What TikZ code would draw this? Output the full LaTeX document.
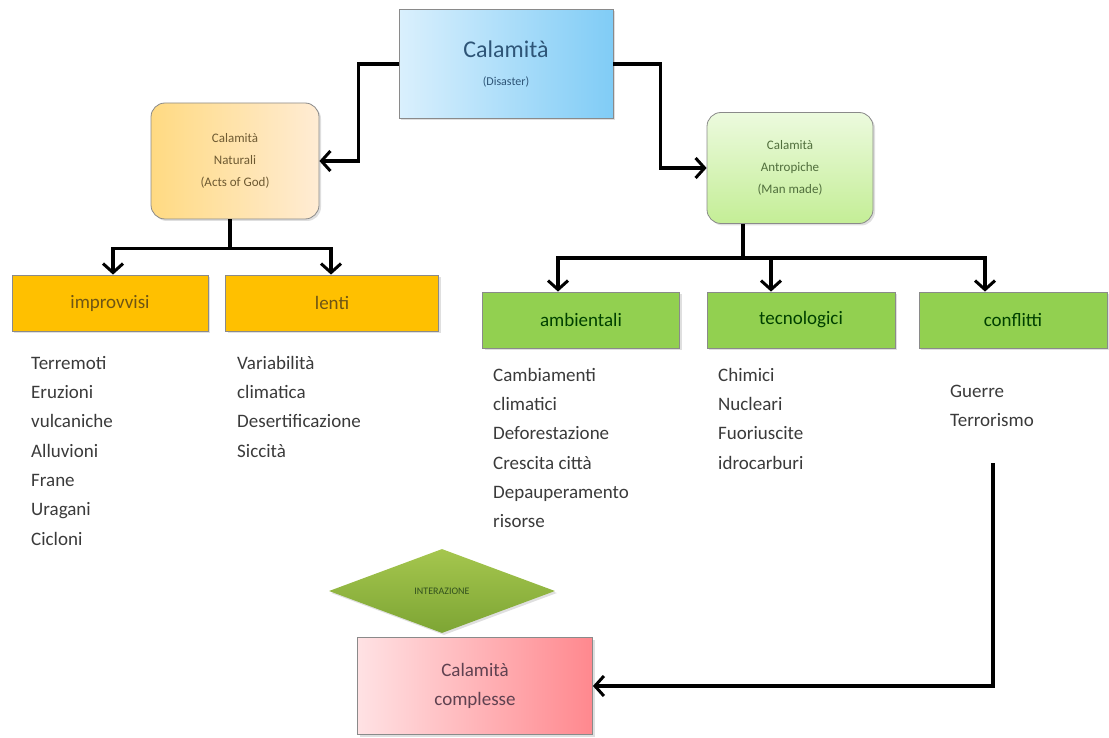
\documentclass[tikz,border=0pt]{standalone}
\usepackage{fontspec}
\setmainfont{Carlito}
\usetikzlibrary{arrows.meta,shapes.geometric,shadows}
\definecolor{boxedge}{HTML}{8A8A8A}
\definecolor{orangefill}{HTML}{FFC000}
\definecolor{greenfill}{HTML}{92D050}
\definecolor{listtext}{HTML}{3A3A3A}
\begin{document}
\begin{tikzpicture}[x=1pt,y=-1pt,
  softshadow/.style={drop shadow={opacity=0.25,shadow xshift=2pt,shadow yshift=-2pt}},
  topbox/.style={draw=boxedge,line width=0.8pt,inner sep=0pt,align=center,softshadow},
  catbox/.style={draw=boxedge,line width=0.8pt,inner sep=0pt,minimum height=56pt,softshadow,
    font=\fontsize{19}{22}\selectfont},
  orangebox/.style={catbox,fill=orangefill,text={rgb,255:red,110;green,85;blue,20}},
  greenbox/.style={catbox,fill=greenfill,text=green!25!black},
  listnode/.style={anchor=north west,inner sep=0pt,align=left,text=listtext,
    font=\fontsize{19}{29.3}\selectfont},
  link/.style={line width=3.5pt},
  conn/.style={line width=3.5pt,-{Straight Barb[length=9pt,width=20pt,line width=3pt]}}
]
\useasboundingbox (0,0) rectangle (1109,738);

% top level
\node[topbox,minimum width=214pt,minimum height=109pt,
  left color={rgb,255:red,218;green,240;blue,253},right color={rgb,255:red,128;green,204;blue,246},
  text={rgb,255:red,46;green,85;blue,119}] (cal) at (506,64)
  {\fontsize{24}{28}\selectfont Calamità\\[16pt]\fontsize{12}{14}\selectfont (Disaster)};

% second level
\node[topbox,rounded corners=14pt,minimum width=168pt,minimum height=116pt,
  left color={rgb,255:red,255;green,218;blue,130},right color={rgb,255:red,255;green,236;blue,212},
  text={rgb,255:red,110;green,90;blue,50},font=\fontsize{13}{22}\selectfont] (nat) at (235,161)
  {Calamità\\Naturali\\(Acts of God)};
\node[topbox,rounded corners=14pt,minimum width=166pt,minimum height=111pt,
  top color={rgb,255:red,236;green,250;blue,222},bottom color={rgb,255:red,196;green,238;blue,150},
  text={rgb,255:red,80;green,110;blue,60},font=\fontsize{13}{22}\selectfont] (ant) at (790,168)
  {Calamità\\Antropiche\\(Man made)};

% categories
\node[orangebox,minimum width=196pt] (imp) at (110,303) {improvvisi};
\node[orangebox,minimum width=213pt] (len) at (332,303) {lenti};
\node[greenbox,minimum width=197pt] (amb) at (581,320) {ambientali};
\node[greenbox,minimum width=188pt] (tec) at (801,320) {tecnologici};
\node[greenbox,minimum width=188pt] (con) at (1013,320) {conflitti};

% examples
\node[listnode] (limp) at (31,356) {Terremoti\\Eruzioni\\vulcaniche\\Alluvioni\\Frane\\Uragani\\Cicloni};
\node[listnode] (llen) at (237,356) {Variabilità\\climatica\\Desertificazione\\Siccità};
\node[listnode] (lamb) at (493,368) {Cambiamenti\\climatici\\Deforestazione\\Crescita città\\Depauperamento\\risorse};
\node[listnode] (ltec) at (718,368) {Chimici\\Nucleari\\Fuoriuscite\\idrocarburi};
\node[listnode] (lcon) at (950,385) {Guerre\\Terrorismo};

% interaction and result
\node[diamond,draw=none,inner sep=0pt,minimum width=226pt,minimum height=84pt,softshadow,
  top color={rgb,255:red,165;green,198;blue,78},bottom color={rgb,255:red,125;green,165;blue,52},
  text={rgb,255:red,50;green,80;blue,30},font=\fontsize{10}{12}\selectfont] (int) at (442,591) {INTERAZIONE};
\node[topbox,minimum width=235pt,minimum height=97pt,
  left color={rgb,255:red,255;green,226;blue,228},right color={rgb,255:red,255;green,136;blue,142},
  text={rgb,255:red,95;green,65;blue,80},font=\fontsize{19}{29}\selectfont] (cpx) at (475,686)
  {Calamità\\complesse};

% connectors
\draw[conn] (cal.west) -- ++(-40,0) |- (nat.east);
\draw[conn] (cal.east) -- ++(47,0) |- (ant.west);

\draw[link] ([xshift=-5pt]nat.south) -- ++(0,29) coordinate (nj);
\draw[conn] (nj) -| ([xshift=3pt]imp.north);
\draw[conn] (nj) -| ([xshift=-1pt]len.north);

\draw[link] ([xshift=-47pt]ant.south) -- ++(0,34) coordinate (aj);
\draw[conn] (aj) -| ([xshift=-23pt]amb.north);
\draw[conn] (aj) -| ([xshift=-30pt]tec.north);
\draw[conn] (aj) -| ([xshift=-28pt]con.north);

\coordinate (cj) at (993,463);
\draw[conn] (cj) |- (cpx.east);
\end{tikzpicture}
\end{document}
